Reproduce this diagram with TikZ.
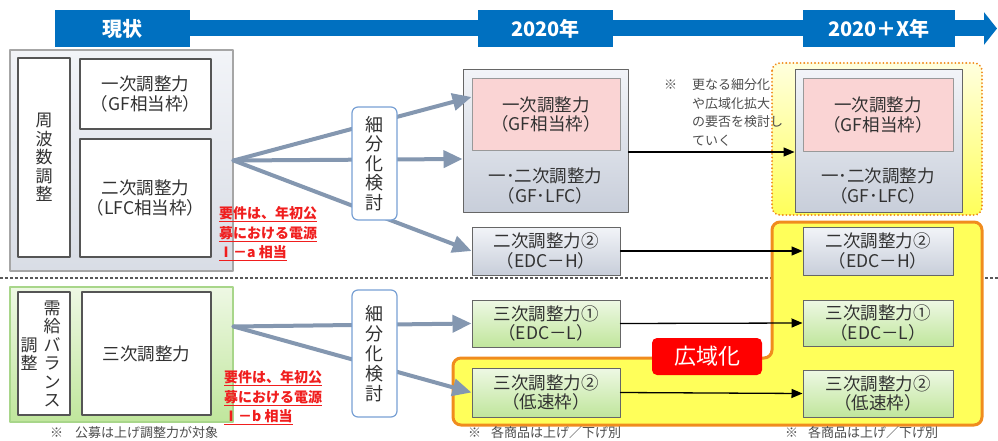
\documentclass[tikz,border=0pt]{standalone}
\usepackage{fontspec}
\setmainfont{Noto Sans CJK JP}
\usepackage{tikz}
\usetikzlibrary{arrows.meta,calc,positioning}
\definecolor{tlblue}{RGB}{0,112,192}
\definecolor{fangray}{RGB}{132,151,176}
\definecolor{boxline}{RGB}{85,85,85}
\definecolor{txtgray}{RGB}{50,50,50}
\definecolor{graytop}{RGB}{242,244,248}
\definecolor{graybot}{RGB}{200,206,218}
\definecolor{pinkfill}{RGB}{250,212,212}
\definecolor{greentop}{RGB}{238,248,228}
\definecolor{greenbot}{RGB}{192,230,156}
\definecolor{greenline}{RGB}{168,214,138}
\definecolor{kbline}{RGB}{120,160,212}
\definecolor{wideorange}{RGB}{240,140,30}
\definecolor{wideyellow}{RGB}{255,255,90}
\definecolor{reqred}{RGB}{240,30,30}
\newcommand\bxfont{\fontsize{17.5}{19.5}\selectfont}

\begin{document}
\begin{tikzpicture}[x=1pt,y=-1pt,line cap=round,line join=round,
	tl/.style={fill=tlblue,text=white,font=\bfseries\fontsize{20}{22}\selectfont,minimum height=37pt,inner sep=0pt},
	tlbar/.style={draw=tlblue,line width=16pt,line cap=butt},
	lbl/.style={draw=boxline,line width=1.5pt,fill=white,inner sep=0pt,align=center,text=txtgray,font=\bxfont},
	grpgray/.style={draw=gray!70,line width=1.2pt,top color=graytop,bottom color=graybot!70,inner sep=0pt},
	grpgreen/.style={draw=greenline,line width=1.2pt,top color=greentop,bottom color=greenbot,inner sep=0pt},
	gbox/.style={draw=gray!80!black,line width=1pt,top color=graytop,bottom color=graybot,inner sep=0pt,align=center,text=txtgray,font=\bxfont},
	pbox/.style={draw=gray!80,line width=1pt,fill=pinkfill,inner sep=0pt,align=center,text=txtgray,font=\bxfont},
	grbox/.style={draw=gray!80!black,line width=1pt,top color=greentop,bottom color=greenbot,inner sep=0pt,align=center,text=txtgray,font=\bxfont},
	txt/.style={inner sep=0pt,align=center,text=txtgray,font=\bxfont},
	vtext/.style={inner sep=0pt,align=center,text=txtgray,font=\fontsize{17}{18.5}\selectfont},
	kb/.style={draw=kbline,line width=1.2pt,rounded corners=6pt,fill=white,minimum width=45pt,inner sep=0pt,align=center,text=txtgray,font=\fontsize{18}{19.5}\selectfont},
	req/.style={anchor=west,inner sep=0pt,align=left,text=reqred,font=\bfseries\fontsize{14}{19.5}\selectfont},
	note/.style={anchor=west,inner sep=0pt,align=left,text=gray!60!black,font=\fontsize{13}{18.5}\selectfont},
	fan/.style={draw=fangray,line width=4pt,-{Triangle[length=19pt,width=17pt]}},
	blk/.style={draw=black,line width=1.3pt,-{Triangle[length=11pt,width=9pt]}},
	sep/.style={draw=gray!70!black,line width=1.6pt,line cap=butt,dash pattern=on 3pt off 2pt}]
\useasboundingbox (0,0) rectangle (998,441);

% timeline
\node[tl,minimum width=135pt] (now) at (122.5,28.5) {現状};
\node[tl,minimum width=135pt] (y20) at (545.5,28.5) {2020年};
\node[tl,minimum width=152pt] (y2x) at (879,28.5) {2020＋X年};
\coordinate (tlend) at (997,28.5);
\draw[tlbar] (now.east) -- (y20.west);
\draw[tlbar] (y20.east) -- (y2x.west);
\draw[tlbar,-{Triangle[length=13pt,width=32pt]}] (y2x.east) -- (tlend);

% current state
\node[grpgray,minimum width=223pt,minimum height=221pt] (cur) at (121.5,160.5) {};
\node[lbl,minimum width=52pt,minimum height=199pt,font=\fontsize{17}{18.5}\selectfont] (freq) at (44,157.5) {周\\波\\数\\調\\整};
\node[lbl,minimum width=131pt,minimum height=70pt] (gf) at (145.5,94) {一次調整力\\（GF相当枠）};
\node[lbl,minimum width=131pt,minimum height=118pt] (lfc) at (145.5,198) {二次調整力\\（LFC相当枠）};
\node[req] (reqa) at (219,234) {\underline{要件は、年初公}\\\underline{募における電源}\\\underline{Ⅰ－a 相当}};

\coordinate (sepl) at (0,278);
\coordinate (sepr) at (998,278);
\draw[sep] (sepl) -- (sepr);

\node[grpgreen,minimum width=223pt,minimum height=135pt] (bal) at (121.5,354.5) {};
\node[lbl,minimum width=52pt,minimum height=123pt] (balv) at (44,353.5) {};
\node[vtext] (balv1) at (52,354) {需\\給\\バ\\ラ\\ン\\ス};
\node[vtext] (balv2) at (29,354) {調\\整};
\node[lbl,minimum width=129pt,minimum height=123pt] (ter) at (146.5,353.5) {三次調整力};
\node[req] (reqb) at (224,398) {\underline{要件は、年初公}\\\underline{募における電源}\\\underline{Ⅰ－b 相当}};
\node[note] (notel) at (50,433) {※\hspace{12pt}公募は上げ調整力が対象};

% wide-area region
\draw[wideorange,line width=3pt,fill=wideyellow,rounded corners=8pt]
	(772,222) -- (982,222) -- (982,425) -- (453,425) -- (453,358) -- (772,358) -- cycle;
\draw[wideorange,line width=2pt,dash pattern=on 0.1pt off 3.5pt,top color=wideyellow!20,bottom color=wideyellow,rounded corners=8pt]
	(772,63) rectangle (982,215);
\node[fill=red,rounded corners=5pt,minimum width=110pt,minimum height=37pt,inner sep=0pt,text=white,font=\fontsize{22}{24}\selectfont] (wide) at (707,356.5) {広域化};

% 2020
\node[gbox,minimum width=165pt,minimum height=142pt] (mgray) at (545.5,141) {};
\node[pbox,minimum width=148pt,minimum height=71pt] (mpink) at (546,114.5) {一次調整力\\（GF相当枠）};
\node[txt] (mgraytxt) at (545.5,186) {一･二次調整力\\（GF･LFC）};
\node[gbox,minimum width=148pt,minimum height=48pt] (mh) at (546,251) {二次調整力②\\（EDC－H）};
\node[grbox,minimum width=148pt,minimum height=47pt] (ml) at (546,323.5) {三次調整力①\\（EDC－L）};
\node[grbox,minimum width=148pt,minimum height=49pt] (mlow) at (546,392.5) {三次調整力②\\（低速枠）};

% 2020+X
\node[gbox,minimum width=167pt,minimum height=142pt] (rgray) at (878.5,141) {};
\node[pbox,minimum width=150pt,minimum height=72pt] (rpink) at (878,115) {一次調整力\\（GF相当枠）};
\node[txt] (rgraytxt) at (878,186) {一･二次調整力\\（GF･LFC）};
\node[gbox,minimum width=150pt,minimum height=48pt] (rh) at (878,251) {二次調整力②\\（EDC－H）};
\node[grbox,minimum width=150pt,minimum height=46pt] (rl) at (878,323) {三次調整力①\\（EDC－L）};
\node[grbox,minimum width=150pt,minimum height=47pt] (rlow) at (878,393.5) {三次調整力②\\（低速枠）};

\node[note] (xmark) at (664,85) {※};
\node[note] (more) at (692,112.5) {更なる細分化\\や広域化拡大\\の要否を検討し\\ていく};
\node[note] (notem) at (468,433) {※\hspace{10pt}各商品は上げ／下げ別};
\node[note] (notex) at (785,433) {※\hspace{10pt}各商品は上げ／下げ別};

% split arrows
\draw[fan] (cur.east) -- ([yshift=17.5pt]mpink.west);
\draw[fan] (cur.east) -- ([yshift=-18pt]mgray.west);
\draw[fan] (cur.east) -- (mh.west);
\draw[fan] ([yshift=28pt]bal.east) -- (ml.west);
\draw[fan] ([yshift=28pt]bal.east) -- (mlow.west);
\node[kb,minimum height=113pt] (kb1) at (374.5,163.5) {細\\分\\化\\検\\討};
\node[kb,minimum height=127pt,font=\fontsize{18}{20}\selectfont] (kb2) at (374.5,353.5) {細\\分\\化\\検\\討};

% carry-over arrows
\draw[blk] ([yshift=-11pt]mgray.east) -- ([yshift=-11pt]rgray.west);
\draw[blk] (mh.east) -- (rh.west);
\draw[blk] (ml.east) -- (rl.west);
\draw[blk] (mlow.east) -- (rlow.west);
\end{tikzpicture}
\end{document}
